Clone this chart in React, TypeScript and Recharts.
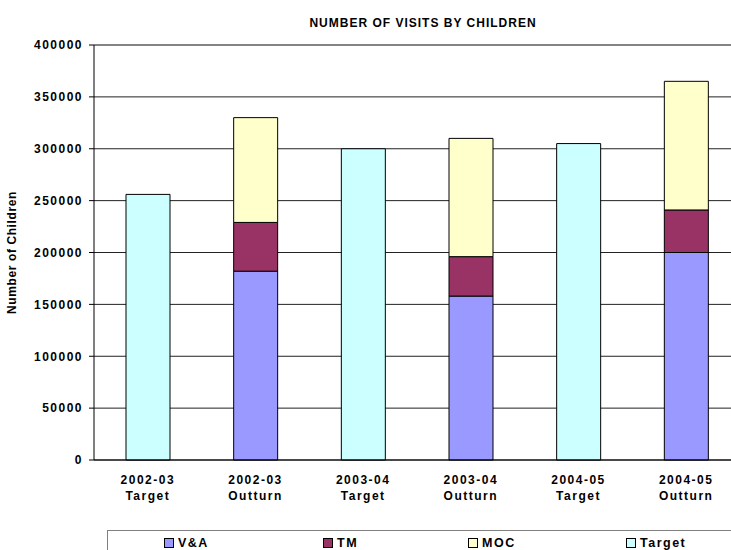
import React from 'react';
import { BarChart, Bar, XAxis, YAxis, CartesianGrid, ReferenceLine, Legend } from 'recharts';

// Categories (year + kind) and stacked series values
const categories = [
    '2002-03 Target',
    '2002-03 Outturn',
    '2003-04 Target',
    '2003-04 Outturn',
    '2004-05 Target',
    '2004-05 Outturn'
];
const vaValues = [null, 182000, null, 158000, null, 200000];
const tmValues = [null, 47000, null, 38000, null, 41000];
const mocValues = [null, 101000, null, 114000, null, 124000];
const targetValues = [256000, null, 300000, null, 305000, null];

const yTicks = [0, 50000, 100000, 150000, 200000, 250000, 300000, 350000, 400000];
const edgeTicks = [0, 1, 2, 3, 4, 5, 6];

const seriesKeys = ['va', 'tm', 'moc', 'target'];
const seriesNames = ['V&A', 'TM', 'MOC', 'Target'];
const seriesColors = ['#9999FF', '#993366', '#FFFFCC', '#CCFFFF'];

const data = categories.map((name, i) => ({
    name,
    va: vaValues[i],
    tm: tmValues[i],
    moc: mocValues[i],
    target: targetValues[i]
}));

const FONT = '"Liberation Sans", Arial, sans-serif';

// two-line category label
const CategoryTick = ({ x, y, payload }: any) => {
    const [year, kind] = String(payload.value).split(' ');
    return (
        <text
            x={x}
            y={y}
            textAnchor="middle"
            fontFamily={FONT}
            fontSize={12}
            fontWeight="bold"
            letterSpacing={1.5}
            fill="#000"
        >
            <tspan x={x} dy={18}>{year}</tspan>
            <tspan x={x} dy={16}>{kind}</tspan>
        </text>
    );
};

// legend offsets inside the box
const legendLefts = [56, 215, 360, 518];

const LegendBox = () => (
    <div
        style={{
            position: 'relative',
            width: 640,
            height: 40,
            border: '1.5px solid #808080',
            background: '#fff',
            fontFamily: FONT
        }}
    >
        {seriesNames.map((n, i) => (
            <div
                key={n}
                style={{
                    position: 'absolute',
                    left: legendLefts[i],
                    top: 5,
                    display: 'flex',
                    alignItems: 'center'
                }}
            >
                <span
                    style={{
                        display: 'inline-block',
                        width: 8,
                        height: 8,
                        background: seriesColors[i],
                        border: '1px solid #000'
                    }}
                />
                <span
                    style={{
                        marginLeft: 4,
                        fontSize: 12.5,
                        fontWeight: 'bold',
                        letterSpacing: 1.5,
                        lineHeight: '14px'
                    }}
                >
                    {n}
                </span>
            </div>
        ))}
    </div>
);

export default function App() {
    return (
        <div
            style={{
                position: 'fixed',
                left: 0,
                top: 0,
                width: 731,
                height: 550,
                overflow: 'hidden',
                background: '#fff'
            }}
        >
            <div
                style={{
                    position: 'absolute',
                    left: 0,
                    top: 16,
                    width: 846,
                    textAlign: 'center',
                    fontFamily: FONT,
                    fontSize: 12,
                    fontWeight: 'bold',
                    letterSpacing: 1,
                    color: '#000'
                }}
            >
                NUMBER OF VISITS BY CHILDREN
            </div>
            <div style={{ position: 'absolute', left: 0, top: 0 }}>
                <BarChart
                    width={760}
                    height={560}
                    data={data}
                    margin={{ top: 45, right: 20, bottom: 40, left: 0 }}
                    barSize={44}
                >
                    <CartesianGrid xAxisId="cat" vertical={false} stroke="#222" strokeDasharray="" />
                    <ReferenceLine xAxisId="cat" y={400000} stroke="#808080" strokeWidth={1.5} />
                    {/* boundary tick marks sit next to the plot */}
                    <XAxis
                        type="number"
                        domain={[0, 6]}
                        ticks={edgeTicks}
                        allowDataOverflow
                        tick={false}
                        tickSize={5}
                        height={6}
                        axisLine={{ stroke: '#000' }}
                        tickLine={{ stroke: '#000' }}
                    />
                    <XAxis
                        xAxisId="cat"
                        dataKey="name"
                        interval={0}
                        height={54}
                        tickSize={0}
                        tickMargin={0}
                        tickLine={false}
                        axisLine={false}
                        tick={<CategoryTick />}
                    />
                    <YAxis
                        width={94}
                        domain={[0, 400000]}
                        ticks={yTicks}
                        interval={0}
                        tickSize={5}
                        tickMargin={6}
                        axisLine={{ stroke: '#000' }}
                        tickLine={{ stroke: '#000' }}
                        tick={{
                            fontFamily: FONT,
                            fontSize: 12,
                            fontWeight: 'bold',
                            letterSpacing: 1.5,
                            fill: '#000'
                        }}
                        label={{
                            value: 'Number of Children',
                            angle: -90,
                            position: 'insideLeft',
                            offset: 12,
                            style: {
                                textAnchor: 'middle',
                                fontFamily: FONT,
                                fontSize: 12,
                                fontWeight: 'bold',
                                letterSpacing: 0.6,
                                fill: '#000'
                            }
                        }}
                    />
                    <Legend
                        layout="horizontal"
                        verticalAlign="middle"
                        align="center"
                        wrapperStyle={{ left: 107, top: 530, width: 640 }}
                        content={() => <LegendBox />}
                    />
                    {seriesKeys.map((k, i) => (
                        <Bar
                            key={k}
                            xAxisId="cat"
                            dataKey={k}
                            name={seriesNames[i]}
                            stackId="visits"
                            fill={seriesColors[i]}
                            stroke="#000"
                            strokeWidth={1}
                            isAnimationActive={false}
                        />
                    ))}
                </BarChart>
            </div>
        </div>
    );
}
